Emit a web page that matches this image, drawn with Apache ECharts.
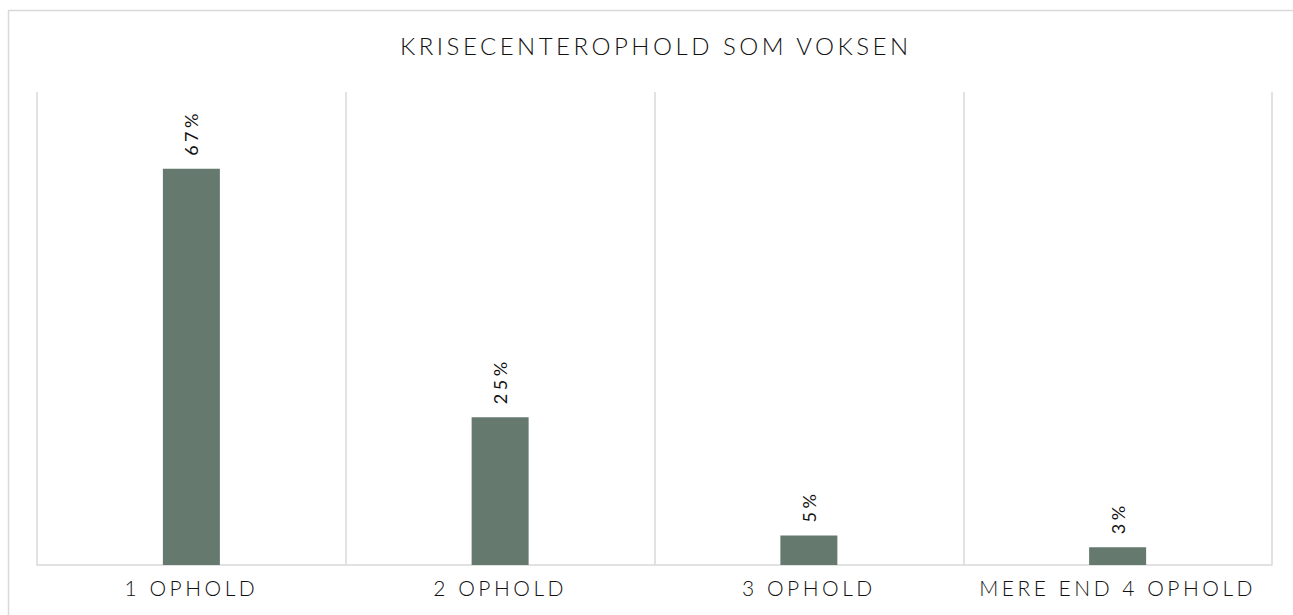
<!DOCTYPE html>
<html>
<head>
<meta charset="utf-8">
<script src="https://cdn.jsdelivr.net/npm/echarts@6/dist/echarts.min.js"></script>
<style>
html, body { margin: 0; padding: 0; background: #ffffff; }
#chart { width: 1293px; height: 615px; }
#chart svg text { letter-spacing: 3.5px; }
</style>
</head>
<body>
<div id="chart"></div>
<script>
const titleText = 'KRISECENTEROPHOLD SOM VOKSEN';
const categories = ['1 OPHOLD', '2 OPHOLD', '3 OPHOLD', 'MERE END 4 OPHOLD'];
const values = [67, 25, 5, 3];

const chart = echarts.init(document.getElementById('chart'), null, { renderer: 'svg' });
const fontFamily = 'Lato, "Noto Sans", sans-serif';
chart.setOption({
  backgroundColor: '#ffffff',
  animation: false,
  graphic: [{
    type: 'rect',
    shape: { x: 8.5, y: 10.5, width: 1400, height: 800 },
    style: { fill: 'none', stroke: '#d9d9d9', lineWidth: 1.5 },
    silent: true,
    z: -10
  }],
  title: {
    text: titleText,
    left: 395,
    top: 28,
    textStyle: { fontFamily: fontFamily, fontSize: 24, fontWeight: 300, color: '#111111' }
  },
  grid: { left: 37, right: 21, top: 92, bottom: 50, containLabel: false },
  xAxis: {
    type: 'category',
    data: categories,
    boundaryGap: true,
    axisLine: { show: true, lineStyle: { color: '#d9d9d9', width: 1.5 } },
    axisTick: { show: false },
    splitLine: { show: true, lineStyle: { color: '#d9d9d9', width: 1.5 } },
    axisLabel: { fontFamily: fontFamily, fontSize: 21, fontWeight: 300, color: '#111111', margin: 12 }
  },
  yAxis: {
    type: 'value',
    min: 0,
    max: 80,
    show: false,
    splitLine: { show: false }
  },
  series: [{
    type: 'bar',
    data: values,
    barWidth: 57,
    itemStyle: { color: '#66796f' },
    label: {
      show: true,
      position: 'top',
      rotate: 90,
      align: 'left',
      verticalAlign: 'middle',
      distance: 13,
      formatter: function (p) { return p.value + '%'; },
      fontFamily: fontFamily,
      fontSize: 18,
      fontWeight: 400,
      color: '#111111'
    }
  }]
});
</script>
</body>
</html>
